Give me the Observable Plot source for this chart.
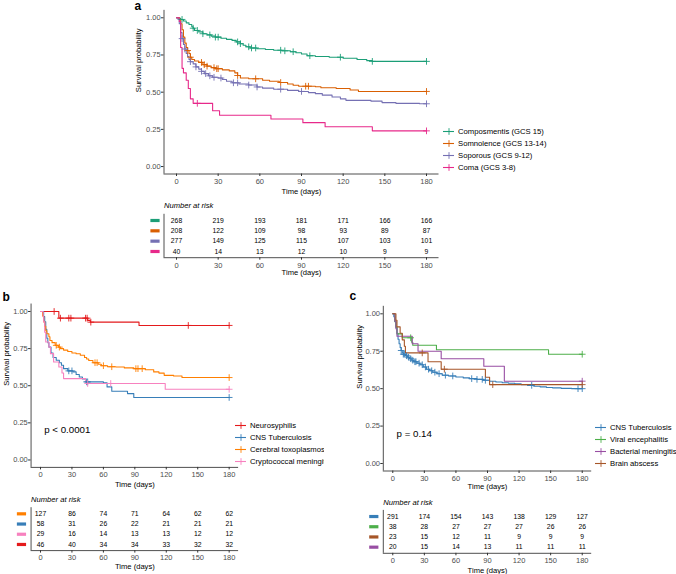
<!DOCTYPE html>
<html><head><meta charset="utf-8">
<script src="https://cdn.jsdelivr.net/npm/d3@7"></script>
<script src="https://cdn.jsdelivr.net/npm/@observablehq/plot@0.6"></script>
<style>
html,body{margin:0;padding:0;background:#fff;}
#fig{position:relative;width:676px;height:574px;overflow:hidden;}
#fig > div{position:absolute;}
#fig svg{display:block;max-width:none !important;}
</style></head><body><div id="fig"></div><script>
// ---------- data ----------
const days = [0, 30, 60, 90, 120, 150, 180];
const yTicks = [0, 0.25, 0.5, 0.75, 1];

// Panel a
const aNames = ["Composmentis (GCS 15)", "Somnolence (GCS 13-14)", "Soporous (GCS 9-12)", "Coma (GCS 3-8)"];
const aColors = ["#1B9E77", "#D95F02", "#7570B3", "#E7298A"];
const aCompos = [[0,1],[2,0.996],[3,0.989],[5,0.978],[7,0.966],[9,0.955],[11,0.94],[12,0.93],[13,0.915],[16,0.905],[19,0.893],[22,0.885],[25,0.877],[28,0.87],[32,0.862],[36,0.855],[40,0.848],[43,0.838],[46,0.826],[48,0.815],[50,0.805],[53,0.797],[58,0.792],[64,0.787],[70,0.782],[76,0.778],[82,0.772],[86,0.765],[90,0.757],[94,0.745],[100,0.74],[110,0.735],[120,0.728],[130,0.72],[137,0.712],[141,0.707],[180,0.707]];
const aComposCens = [4,12,15,19,24,28,30,44,46,52,54,57,75,78,84,96,118,141,180];
const aSomno = [[0,1],[2,0.99],[3,0.96],[4,0.92],[5,0.87],[6,0.83],[7,0.8],[8,0.78],[9,0.76],[10,0.735],[11,0.72],[13,0.71],[16,0.7],[19,0.685],[22,0.675],[25,0.665],[28,0.658],[33,0.65],[38,0.643],[42,0.63],[44,0.612],[46,0.595],[52,0.59],[62,0.58],[67,0.573],[74,0.565],[80,0.555],[84,0.547],[88,0.54],[100,0.536],[104,0.53],[115,0.525],[125,0.515],[131,0.505],[180,0.505]];
const aSomnoCens = [8,10,18,20,22,27,29,30,44,57,75,93,95,180];
const aSopor = [[0,1],[1,0.99],[2,0.96],[3,0.9],[4,0.86],[5,0.82],[6,0.79],[7,0.76],[8,0.74],[9,0.72],[10,0.705],[12,0.69],[14,0.67],[16,0.655],[18,0.64],[20,0.625],[23,0.61],[26,0.6],[30,0.595],[33,0.585],[36,0.573],[40,0.563],[45,0.555],[52,0.548],[58,0.535],[62,0.527],[70,0.52],[80,0.512],[88,0.505],[95,0.497],[100,0.49],[105,0.48],[112,0.468],[118,0.455],[122,0.445],[140,0.44],[148,0.43],[158,0.425],[175,0.422],[180,0.422]];
const aSoporCens = [4,6,10,14,18,21,24,27,32,41,44,52,58,75,90,180];
const aComa = [[0,1],[2,0.975],[3,0.8],[4,0.66],[5,0.63],[7,0.58],[8.5,0.525],[10,0.455],[12,0.425],[26,0.375],[31,0.345],[68,0.32],[91,0.295],[107,0.268],[141,0.24],[180,0.24]];
const aComaCens = [15,180];
const aRiskNames = aNames;
const aRiskCounts = [
  [268,219,193,181,171,166,166],
  [208,122,109,98,93,89,87],
  [277,149,125,115,107,103,101],
  [40,14,13,12,10,9,9]
];

// Panel b
const bNames = ["Neurosyphilis", "CNS Tuberculosis", "Cerebral toxoplasmosis", "Cryptococcal meningitis"];
const bColors = ["#E41A1C", "#377EB8", "#FF7F00", "#F781BF"];
const bNeuro = [[0,1],[17.5,0.955],[45,0.94],[47.5,0.928],[94,0.906],[180,0.906]];
const bNeuroCens = [13,19,27,29,43,44.5,48,141,180];
const bTB = [[0,1],[3,0.965],[4,0.93],[5,0.88],[6,0.82],[7,0.79],[8,0.76],[10,0.72],[12,0.69],[15,0.672],[18,0.655],[20,0.638],[22,0.615],[26,0.6],[31,0.593],[34,0.576],[37,0.559],[40,0.545],[43,0.526],[60,0.52],[63.5,0.492],[68,0.463],[83,0.447],[89,0.421],[180,0.421]];
const bTBCens = [27,30,44,45,180];
const bToxo = [[0,1],[2,0.97],[3,0.93],[4,0.9],[5,0.87],[6,0.85],[8,0.83],[9,0.805],[11,0.79],[14,0.772],[17,0.76],[19,0.75],[22,0.74],[26,0.73],[30,0.72],[34,0.715],[38,0.705],[42,0.69],[44,0.68],[46,0.67],[50,0.655],[55,0.645],[58,0.635],[64,0.628],[72,0.626],[80,0.62],[89,0.615],[100,0.608],[108,0.593],[113,0.585],[118,0.57],[127,0.565],[135,0.555],[180,0.555]];
const bToxoCens = [15,18,52,54,60,68,91,93,97,180];
const bCrypto = [[0,1],[2.5,0.965],[3,0.93],[4,0.86],[5,0.794],[8,0.76],[9.5,0.716],[12.5,0.66],[17.5,0.626],[20.5,0.586],[22,0.548],[43,0.526],[44,0.515],[119,0.476],[180,0.476]];
const bCryptoCens = [45,67,180];
const bRiskNames = ["Cerebral toxoplasmosis", "CNS Tuberculosis", "Cryptococcal meningitis", "Neurosyphilis"];
const bRiskCounts = [
  [127,86,74,71,64,62,62],
  [58,31,26,22,21,21,21],
  [29,16,14,13,13,12,12],
  [46,40,34,34,33,32,32]
];

// Panel c
const cNames = ["CNS Tuberculosis", "Viral encephalitis", "Bacterial meningitis", "Brain abscess"];
const cColors = ["#377EB8", "#4DAF4A", "#984EA3", "#A65628"];
const cTB = [[0,1],[1,0.98],[2,0.95],[3,0.91],[4,0.87],[5,0.83],[6,0.8],[7,0.775],[8,0.755],[9,0.74],[10,0.73],[12,0.72],[14,0.71],[16,0.7],[18,0.69],[20,0.68],[23,0.67],[26,0.66],[29,0.645],[32,0.63],[35,0.62],[38,0.61],[42,0.6],[47,0.59],[53,0.585],[60,0.578],[67,0.572],[73,0.567],[80,0.562],[86,0.556],[92,0.55],[98,0.545],[104,0.54],[110,0.536],[116,0.532],[122,0.527],[128,0.522],[134,0.516],[140,0.512],[146,0.508],[152,0.505],[160,0.502],[170,0.5],[180,0.5]];
const cTBCens = [8,10,11,13,15,17,19,21,22,25,28,31,34,37,40,44,50,57,75,80,85,88,132,176,180];
const cViral = [[0,1],[2,0.947],[3,0.91],[4,0.866],[9,0.84],[18,0.81],[19,0.79],[41.5,0.76],[148,0.73],[180,0.73]];
const cViralCens = [17,180];
const cBact = [[0,1],[2,0.95],[3,0.9],[4,0.85],[18.5,0.8],[24,0.75],[46,0.7],[86.5,0.65],[106,0.55],[180,0.55]];
const cBactCens = [180];
const cAbsc = [[0,1],[3,0.957],[4,0.913],[7,0.87],[9,0.826],[11,0.783],[12,0.739],[33.5,0.68],[46,0.63],[88,0.576],[92,0.527],[180,0.527]];
const cAbscCens = [28,49,95,180];
const cRiskNames = ["CNS Tuberculosis", "Viral encephalitis", "Brain abscess", "Bacterial meningitis"];
const cRiskCounts = [
  [291,174,154,143,138,129,127],
  [38,28,27,27,27,26,26],
  [23,15,12,11,9,9,9],
  [20,15,14,13,11,11,11]
];

// ---------- helpers ----------
const FONT = "'Liberation Sans', Arial, Helvetica, sans-serif";
const W = 676, H = 574;
const fig = document.getElementById("fig");
function place(node, left, top, clipW) {
  const d = document.createElement("div");
  d.style.left = left + "px"; d.style.top = top + "px";
  if (clipW) { d.style.width = clipW + "px"; d.style.overflow = "hidden"; }
  d.appendChild(node); fig.appendChild(d);
}
function survAt(curve, t) { let s = 1; for (const [tt, ss] of curve) if (tt <= t) s = ss; return s; }
const baseStyle = {background: "none", fontFamily: FONT, fontSize: "7.5px", color: "#000", maxWidth: "none"};
const CENS_R = 2.3;

function kmPlot(o) {
  const lineData = o.curves.flatMap((c, i) => c.map(([t, s]) => ({t, s, g: o.names[i]})));
  const censData = o.cens.flatMap((arr, i) => arr.map(t => ({t, s: survAt(o.curves[i], t), g: o.names[i]})));
  return Plot.plot({
    width: W, height: H,
    marginLeft: o.L, marginRight: W - o.R, marginTop: o.T, marginBottom: H - o.B,
    style: baseStyle,
    x: {domain: [-9, 189]},
    y: {domain: [-0.05, 1.05]},
    color: {domain: o.names, range: o.colors},
    marks: [
      Plot.ruleX([-9], {stroke: "#222", strokeWidth: 0.8}),
      Plot.ruleY([-0.05], {stroke: "#222", strokeWidth: 0.8}),
      Plot.axisX({ticks: days, tickSize: 2.5, tickPadding: 2, fontSize: 7.5, fill: "#4d4d4d", stroke: "#333", label: null}),
      Plot.axisY({ticks: yTicks, tickFormat: d3.format(".2f"), tickSize: 2.5, tickPadding: 0.8, fontSize: 7.5, fill: "#4d4d4d", stroke: "#333", label: null}),
      Plot.line(lineData, {x: "t", y: "s", z: "g", stroke: "g", curve: "step-after", strokeWidth: 1.1}),
      Plot.dot(censData, {x: "t", y: "s", stroke: "g", symbol: "plus", r: CENS_R, strokeWidth: 0.9}),
      ...(o.pval ? [Plot.text([o.pval], {x: 3.6, y: 0.2, text: d => d, textAnchor: "start", lineAnchor: "middle", fontSize: 9.7, fill: "#000"})] : []),
      Plot.text(["Time (days)"], {frameAnchor: "bottom", lineAnchor: "middle", dy: o.timeDy, fontSize: 7.6, fill: "#000"}),
      Plot.text(["Survival probability"], {frameAnchor: "left", lineAnchor: "middle", rotate: -90, dx: o.survDx, fontSize: 7.6, fill: "#000"}),
      Plot.text([o.tag], {frameAnchor: "top-left", lineAnchor: "middle", textAnchor: "start", dx: o.tagDx, dy: o.tagDy, fontSize: 12, fontWeight: "bold", fill: "#000"})
    ]
  });
}

const barSymbol = {draw(ctx) { ctx.rect(-4.6, -1.6, 9.2, 3.2); }};

function riskPlot(o) {
  const data = o.names.flatMap((g, i) => days.map((d, j) => ({t: d, i, n: o.counts[i][j], g})));
  return Plot.plot({
    width: W, height: H,
    marginLeft: o.L, marginRight: W - o.R, marginTop: o.T, marginBottom: H - o.B,
    style: baseStyle,
    x: {domain: [-9, 189]},
    y: {domain: [-0.6, 3.6], reverse: true, axis: null},
    color: {domain: o.names, range: o.colors},
    marks: [
      Plot.ruleX([-9], {stroke: "#222", strokeWidth: 0.8}),
      Plot.ruleY([3.6], {stroke: "#222", strokeWidth: 0.8}),
      Plot.axisX({ticks: days, tickSize: 2.5, tickPadding: 2, fontSize: 7.5, fill: "#4d4d4d", stroke: "#333", label: null}),
      Plot.text(data, {x: "t", y: "i", text: "n", lineAnchor: "middle", fontSize: 6.8, fill: "#000"}),
      Plot.dot(o.names, {y: (d, i) => i, fill: d => d, stroke: "none", symbol: barSymbol, frameAnchor: "left", dx: o.barDx}),
      Plot.text(["Number at risk"], {frameAnchor: "top-left", lineAnchor: "middle", textAnchor: "start", dy: o.headDy, fontSize: 7.6, fontStyle: "italic", fill: "#000"}),
      Plot.text(["Time (days)"], {frameAnchor: "bottom", lineAnchor: "middle", dy: o.timeDy, fontSize: 7.6, fill: "#000"})
    ]
  });
}

function legendPlot(names, colors) {
  return Plot.plot({
    width: 11 + 150, height: 48,
    marginLeft: 0, marginRight: 150, marginTop: 6, marginBottom: 6,
    style: baseStyle,
    y: {type: "point", domain: names, padding: 0, axis: null},
    color: {domain: names, range: colors},
    marks: [
      Plot.tickY(names, {y: d => d, stroke: d => d, strokeWidth: 1.1}),
      Plot.dot(names, {y: d => d, stroke: d => d, symbol: "plus", r: CENS_R, strokeWidth: 0.9}),
      Plot.text(names, {y: d => d, text: d => d, frameAnchor: "right", lineAnchor: "middle", textAnchor: "start", dx: 3.5, fontSize: 7.7, fill: "#000"})
    ]
  });
}

// ---------- panel a ----------
place(kmPlot({L: 163.5, R: 438.5, T: 9.85, B: 173.5, names: aNames, colors: aColors,
  curves: [aCompos, aSomno, aSopor, aComa], cens: [aComposCens, aSomnoCens, aSoporCens, aComaCens],
  timeDy: 17.5, survDx: -25.2, tag: "a", tagDx: -29.5, tagDy: -4.6}), 0, 0);
place(riskPlot({L: 163.5, R: 438.5, T: 213.8, B: 257.2, names: aRiskNames, colors: aColors, counts: aRiskCounts,
  barDx: -9, headDy: -8.8, timeDy: 15.1}), 0, 0);
place(legendPlot(aNames, aColors), 443, 125.3);

// ---------- panel b ----------
place(kmPlot({L: 30.57, R: 238.1, T: 303.55, B: 466.9, names: bNames, colors: bColors,
  curves: [bNeuro, bTB, bToxo, bCrypto], cens: [bNeuroCens, bTBCens, bToxoCens, bCryptoCens],
  pval: "p < 0.0001", timeDy: 17.2, survDx: -24.6, tag: "b", tagDx: -28.6, tagDy: -6.9}), 0, 0);
place(riskPlot({L: 30.57, R: 238.1, T: 507.2, B: 550.1, names: bRiskNames,
  colors: bRiskNames.map(n => bColors[bNames.indexOf(n)]), counts: bRiskCounts,
  barDx: -9.6, headDy: -7.9, timeDy: 15.9}), 0, 0);
place(legendPlot(bNames, bColors), 235, 418.7, 89);

// ---------- panel c ----------
place(kmPlot({L: 382.8, R: 591.2, T: 305.83, B: 470.5, names: cNames, colors: cColors,
  curves: [cTB, cViral, cBact, cAbsc], cens: [cTBCens, cViralCens, cBactCens, cAbscCens],
  pval: "p = 0.14", timeDy: 15.5, survDx: -23.5, tag: "c", tagDx: -33.8, tagDy: -9.7}), 0, 0);
place(riskPlot({L: 382.8, R: 591.2, T: 509.9, B: 552.8, names: cRiskNames,
  colors: cRiskNames.map(n => cColors[cNames.indexOf(n)]), counts: cRiskCounts,
  barDx: -9.5, headDy: -7.6, timeDy: 17.2}), 0, 0);
place(legendPlot(cNames, cColors), 595, 421.3);
</script></body></html>
